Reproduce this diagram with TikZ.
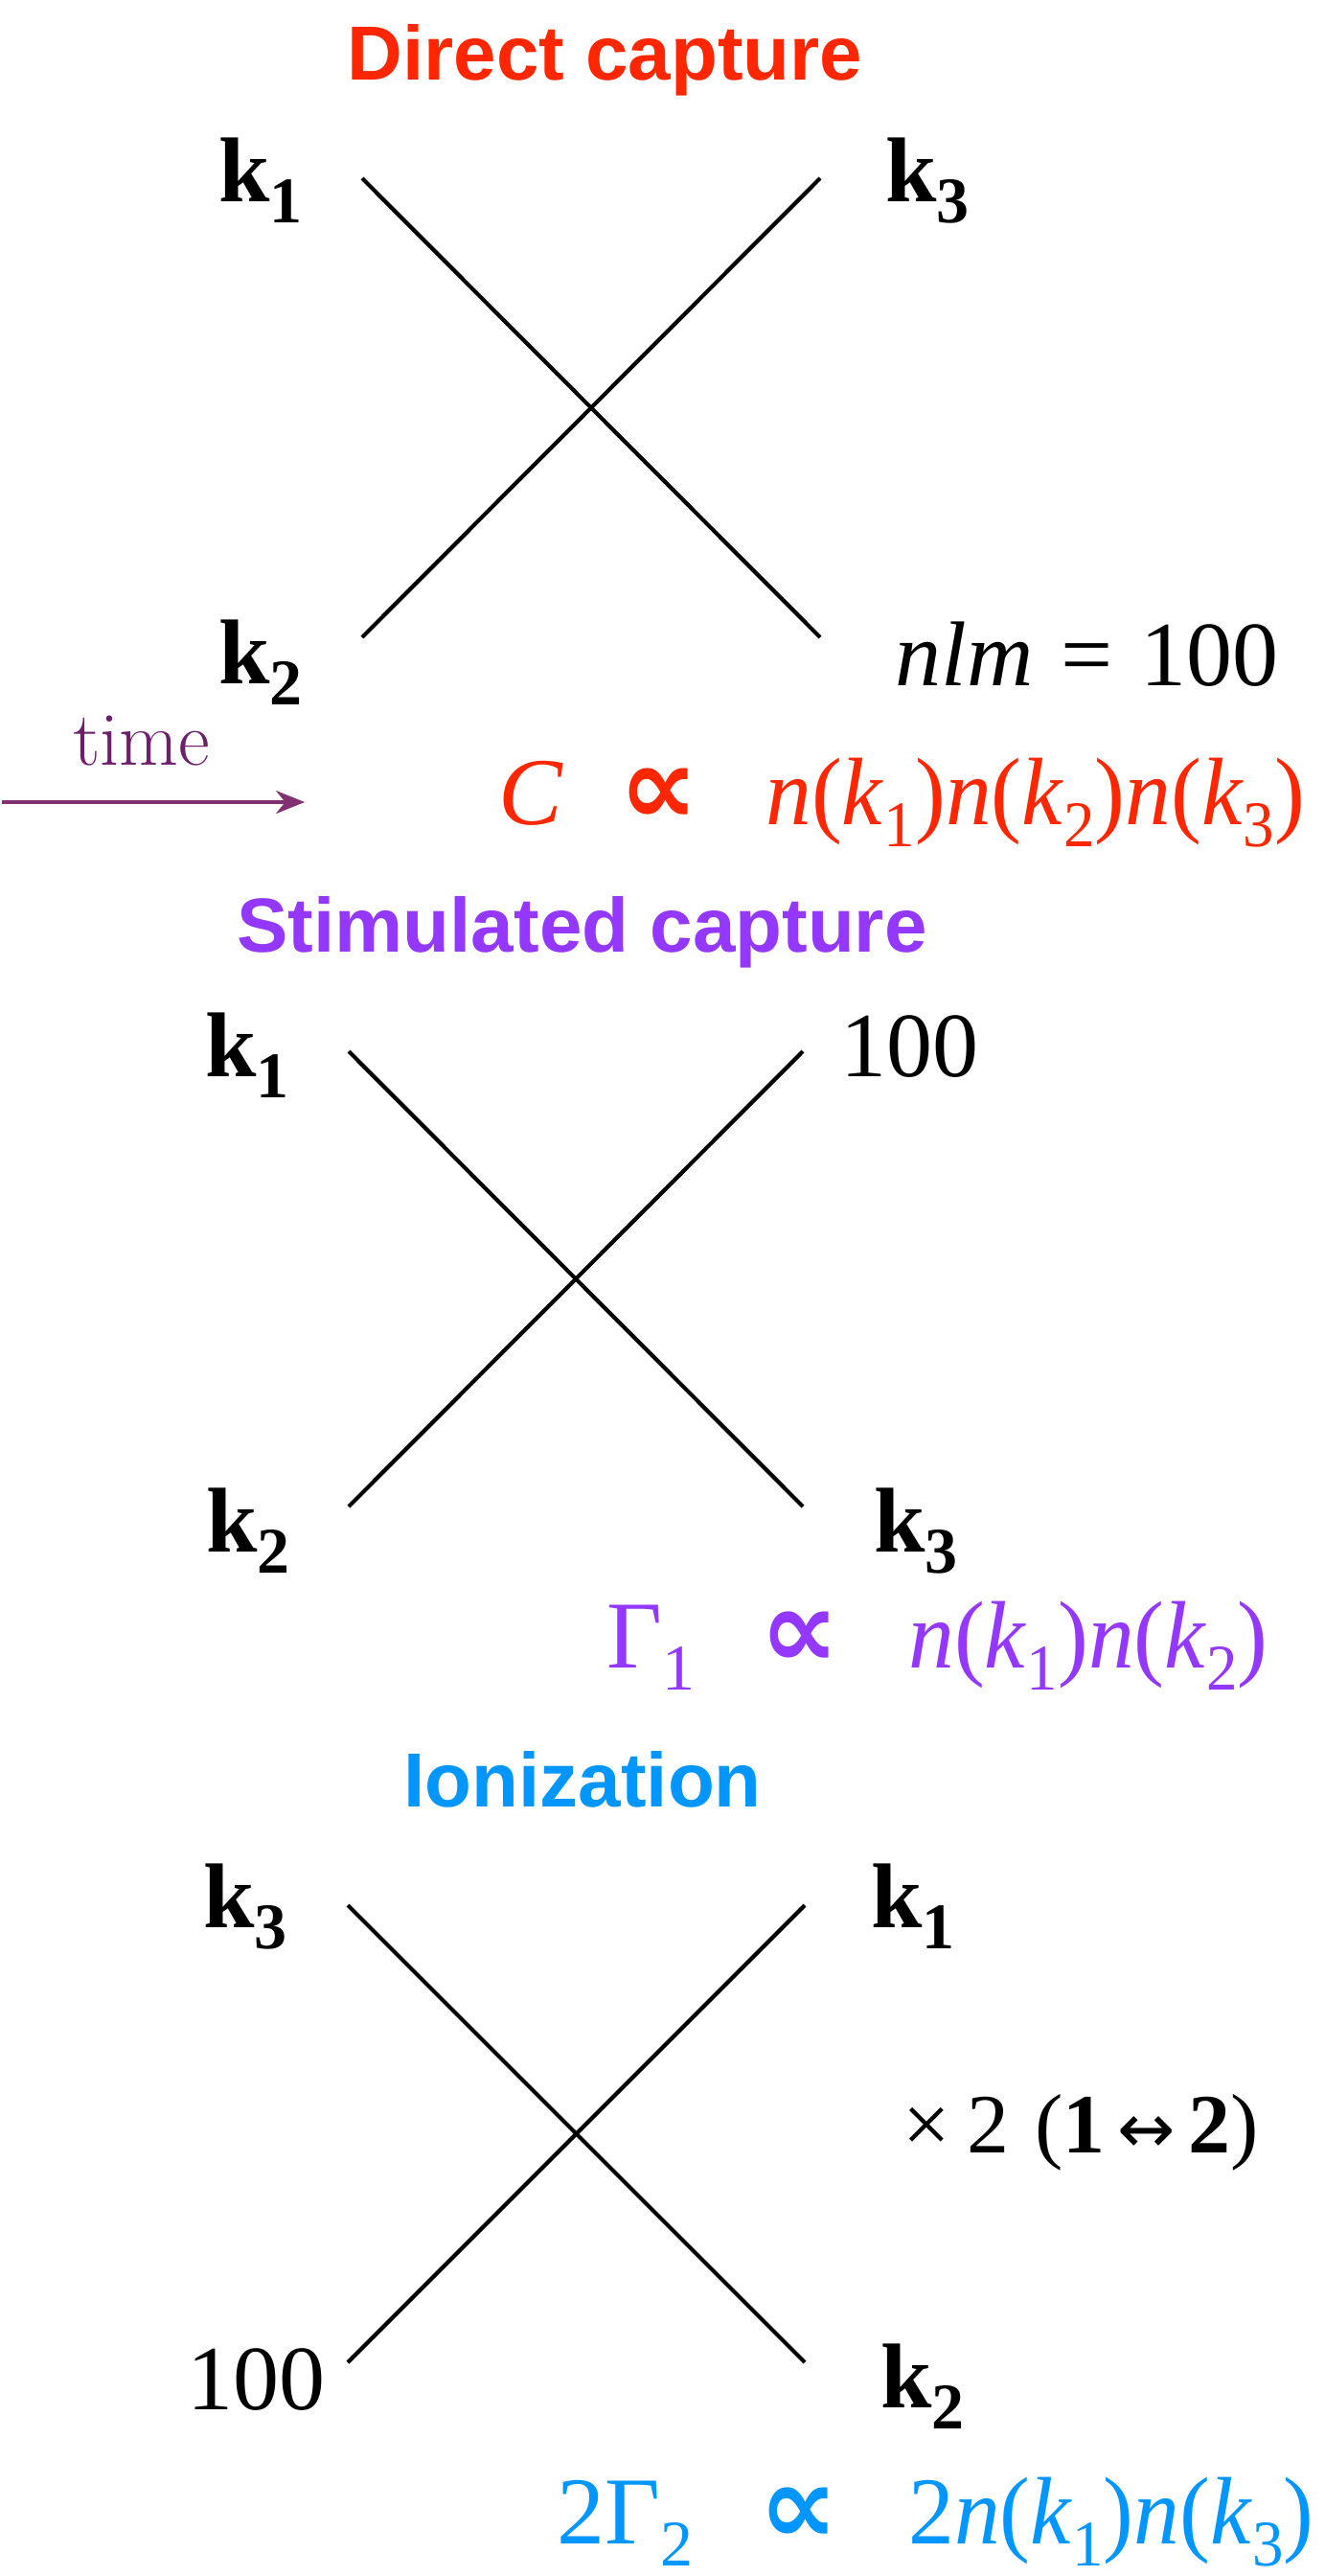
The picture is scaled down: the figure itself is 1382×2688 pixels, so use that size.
\documentclass[tikz,border=0pt]{standalone}
\usepackage{fontspec}
\usetikzlibrary{arrows.meta}
\newfontfamily\tnr{Liberation Serif}
\newfontfamily\hel{Liberation Sans}
\newfontfamily\djv{DejaVu Sans}
\definecolor{dcred}{HTML}{FF2600}
\definecolor{stpur}{HTML}{9437FF}
\definecolor{ionblue}{HTML}{0096FF}
\definecolor{timec}{HTML}{6E1F6C}
\definecolor{arrc}{HTML}{823070}
\newcommand\lo[1]{\raisebox{-0.23em}{\fontsize{34pt}{34pt}\selectfont #1}}
\newcommand\nk[1]{\textit{n}(\textit{k}\lo{#1})}
\newcommand\prop{{\djv\bfseries\fontsize{58pt}{64pt}\selectfont ∝}}
\newcommand\narrow[1]{\scalebox{0.955}[1]{#1}}
\tikzset{
  ttl/.style={font={\hel\bfseries\fontsize{40pt}{48pt}\selectfont}, inner sep=0pt, anchor=base west},
  lbl/.style={font={\tnr\fontsize{48pt}{58pt}\selectfont}, inner sep=0pt, anchor=base west},
  eqn/.style={font={\tnr\fontsize{50pt}{60pt}\selectfont}, inner sep=0pt, anchor=base west},
  prp/.style={inner sep=0pt, anchor=base},
  xline/.style={line width=2.1pt, black},
}
\begin{document}
\begin{tikzpicture}[x=0.5pt,y=-0.5pt]
\useasboundingbox[fill=white] (0,0) rectangle (1382,2688);

% ---------- Direct capture ----------
\node[ttl, text=dcred] (t1) at (362,83) {Direct capture};
\node[lbl] (a1) at (228,210) {\bfseries k\lo{1}};
\node[lbl] (a3) at (924,210) {\bfseries k\lo{3}};
\node[lbl] (a2) at (228,713) {\bfseries k\lo{2}};
\node[lbl] (a4) at (934,715) {\textit{nlm}\hspace{0.3em}=\hspace{0.3em}100};
\coordinate (p1) at (378,186);
\coordinate (p2) at (856,186);
\coordinate (p3) at (378,665);
\coordinate (p4) at (856,665);
\draw[xline] (p1) -- (p4);
\draw[xline] (p2) -- (p3);

\node[anchor=base west, inner sep=0pt, text=timec, font=\fontsize{40pt}{46pt}\selectfont] (tm) at (76,798) {time};
\coordinate (ta) at (2,837);
\coordinate (tb) at (318,837);
\draw[arrc, line width=1.6pt, -{Stealth[length=15pt,width=12pt]}] (ta) -- (tb);

\node[eqn, text=dcred] (e1l) at (520,860) {\textit{C}};
\node[prp, text=dcred] (e1p) at (688,860) {\prop};
\node[eqn, text=dcred] (e1r) at (799,860) {\narrow{\nk{1}\nk{2}\nk{3}}};

% ---------- Stimulated capture ----------
\node[ttl, text=stpur] (t2) at (247,993) {Stimulated capture};
\node[lbl] (b1) at (214,1123) {\bfseries k\lo{1}};
\node[lbl] (b4) at (877,1123) {100};
\node[lbl] (b2) at (215,1619) {\bfseries k\lo{2}};
\node[lbl] (b3) at (912,1619) {\bfseries k\lo{3}};
\coordinate (q1) at (364,1097);
\coordinate (q2) at (838,1097);
\coordinate (q3) at (364,1572);
\coordinate (q4) at (838,1572);
\draw[xline] (q1) -- (q4);
\draw[xline] (q2) -- (q3);

\node[eqn, text=stpur] (e2l) at (633,1740) {Γ\lo{1}};
\node[prp, text=stpur] (e2p) at (835,1740) {\prop};
\node[eqn, text=stpur] (e2r) at (948,1740) {\narrow{\nk{1}\nk{2}}};

% ---------- Ionization ----------
\node[ttl, text=ionblue] (t3) at (421,1885) {Ionization};
\node[lbl] (c3) at (212,2011) {\bfseries k\lo{3}};
\node[lbl] (c1) at (909,2011) {\bfseries k\lo{1}};
\node[lbl] (c4) at (195,2514) {100};
\node[lbl] (c2) at (919,2512) {\bfseries k\lo{2}};
\coordinate (r1) at (363,1988);
\coordinate (r2) at (840,1988);
\coordinate (r3) at (363,2465);
\coordinate (r4) at (840,2465);
\draw[xline] (r1) -- (r4);
\draw[xline] (r2) -- (r3);

\node[anchor=base west, inner sep=0pt, font={\tnr\fontsize{44pt}{50pt}\selectfont}] (sw) at (942,2246)
  {×\hspace{0.2em}2\hspace{0.3em}(\textbf{1}\hspace{0.15em}{\djv\fontsize{36pt}{40pt}\selectfont ↔}\hspace{0.15em}\textbf{2})};

\node[eqn, text=ionblue] (e3l) at (581,2654) {2Γ\lo{2}};
\node[prp, text=ionblue] (e3p) at (834,2654) {\prop};
\node[eqn, text=ionblue] (e3r) at (948,2654) {\narrow{2\nk{1}\nk{3}}};
\end{tikzpicture}
\end{document}
